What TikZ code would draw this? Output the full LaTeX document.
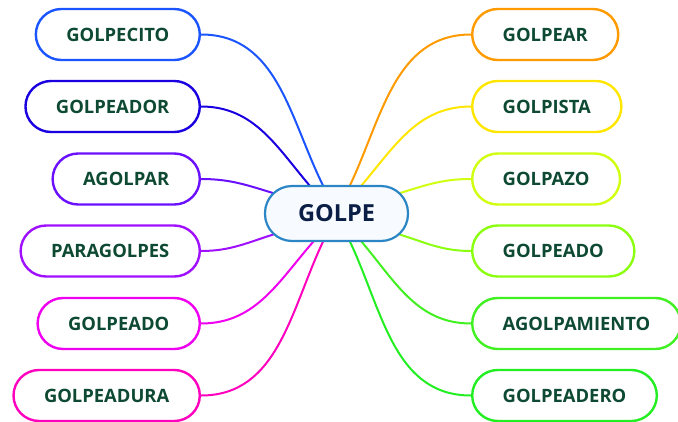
\documentclass[tikz,border=0pt]{standalone}
\usepackage{fontspec}
\setmainfont{Open Sans}
\usetikzlibrary{calc,backgrounds}
\definecolor{leaftext}{HTML}{0E4A33}
\definecolor{hubtext}{HTML}{0B1E45}
\definecolor{hubline}{HTML}{2C86C6}
\definecolor{hubfill}{HTML}{F7FBFF}
\definecolor{cBlue}{HTML}{1A55FF}
\definecolor{cNavy}{HTML}{1A00E0}
\definecolor{cIndigo}{HTML}{6A10FF}
\definecolor{cViolet}{HTML}{A010FF}
\definecolor{cMagenta}{HTML}{F000F0}
\definecolor{cPink}{HTML}{FF00BE}
\definecolor{cOrange}{HTML}{FF9A00}
\definecolor{cYellow}{HTML}{FFE600}
\definecolor{cLemon}{HTML}{D0FF10}
\definecolor{cLime}{HTML}{8CFF10}
\definecolor{cGreen}{HTML}{40F020}
\definecolor{cBright}{HTML}{22EE22}

\begin{document}
\begin{tikzpicture}[x=1pt, y=1pt,
	leaf/.style={draw, line width=2.4pt, fill=white, rounded corners=25.5pt, minimum height=51pt, inner xsep=30.5pt, font=\fontsize{18.4}{21}\selectfont\bfseries, text=leaftext},
	hub/.style={draw=hubline, line width=2.2pt, fill=hubfill, rounded corners=27pt, minimum height=55pt, minimum width=143pt, font=\fontsize{23.5}{26}\selectfont\bfseries, text=hubtext},
	twig/.style={line width=2pt}]
				\clip (0,0) rectangle (678,-421);
				\node[hub] (golpe)at(336.5, -213.5) {GOLPE};
				% left side
				\node[leaf, draw=cBlue, anchor=east] (golpecito)at(201, -34.5) {GOLPECITO};
				\node[leaf, draw=cNavy, anchor=east] (golpeador)at(201, -106.5) {GOLPEADOR};
				\node[leaf, draw=cIndigo, anchor=east] (agolpar)at(201, -179) {AGOLPAR};
				\node[leaf, draw=cViolet, anchor=east] (paragolpes)at(201, -251) {PARAGOLPES};
				\node[leaf, draw=cMagenta, anchor=east] (golpeadoL)at(201, -323.5) {GOLPEADO};
				\node[leaf, draw=cPink, anchor=east] (golpeadura)at(201, -395.5) {GOLPEADURA};
				% right side
				\node[leaf, draw=cOrange, anchor=west] (golpear)at(471, -34.5) {GOLPEAR};
				\node[leaf, draw=cYellow, anchor=west] (golpista)at(471, -106.5) {GOLPISTA};
				\node[leaf, draw=cLemon, anchor=west] (golpazo)at(471, -179) {GOLPAZO};
				\node[leaf, draw=cLime, anchor=west] (golpeadoR)at(471, -251) {GOLPEADO};
				\node[leaf, draw=cGreen, anchor=west] (agolpamiento)at(471, -323.5) {AGOLPAMIENTO};
				\node[leaf, draw=cBright, anchor=west] (golpeadero)at(471, -395.5) {GOLPEADERO};
				\begin{scope}[on background layer]
				\draw[twig, cBlue] (golpecito.east) to[out=0, in=117] ($(golpe.center)+(-11.5, 24)$);
				\draw[twig, cNavy] (golpeador.east) to[out=0, in=131] ($(golpe.center)+(-23.5, 24)$);
				\draw[twig, cIndigo] (agolpar.east) to[out=0, in=163] ($(golpe.center)+(-62, 20)$);
				\draw[twig, cViolet] (paragolpes.east) to[out=0, in=197] ($(golpe.center)+(-60, -20)$);
				\draw[twig, cMagenta] (golpeadoL.east) to[out=0, in=228] ($(golpe.center)+(-19.5, -24)$);
				\draw[twig, cPink] (golpeadura.east) to[out=0, in=244] ($(golpe.center)+(-11.5, -24)$);
				\draw[twig, cOrange] (golpear.west) to[out=180, in=64] ($(golpe.center)+(11.5, 24)$);
				\draw[twig, cYellow] (golpista.west) to[out=180, in=49] ($(golpe.center)+(21.5, 24)$);
				\draw[twig, cLemon] (golpazo.west) to[out=180, in=17] ($(golpe.center)+(62, 20)$);
				\draw[twig, cLime] (golpeadoR.west) to[out=180, in=-17] ($(golpe.center)+(60, -20)$);
				\draw[twig, cGreen] (agolpamiento.west) to[out=180, in=-49] ($(golpe.center)+(21.5, -24)$);
				\draw[twig, cBright] (golpeadero.west) to[out=180, in=-64] ($(golpe.center)+(11.5, -24)$);
				\end{scope}
			\end{tikzpicture}
\end{document}
